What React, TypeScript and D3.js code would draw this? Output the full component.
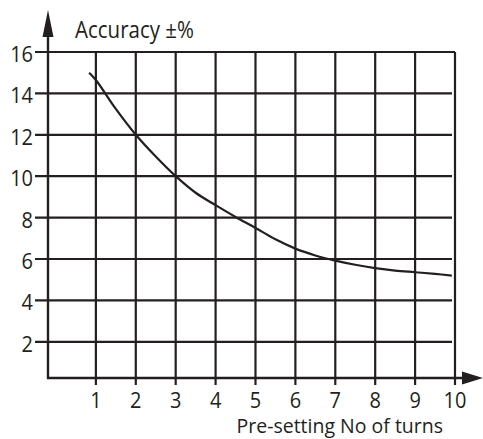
import React from "react";
import * as d3 from "d3";

const turns = [0.83, 1, 1.5, 2, 2.5, 3, 3.5, 4, 4.5, 5, 5.5, 6, 6.5, 7, 7.5, 8, 8.5, 9, 9.5, 9.92];
const accuracy = [15.0, 14.65, 13.25, 12.0, 10.95, 10.0, 9.2, 8.6, 8.03, 7.5, 6.95, 6.5, 6.17, 5.92, 5.72, 5.56, 5.44, 5.36, 5.28, 5.2];
const xTicks = [1, 2, 3, 4, 5, 6, 7, 8, 9, 10];
const yTicks = [2, 4, 6, 8, 10, 12, 14, 16];
const yTitle = "Accuracy ±%";
const xTitle = "Pre-setting No of turns";

const W = 483, H = 439;
const INK = "#231f20";
const FONT = "'Open Sans', 'Noto Sans', sans-serif";

function T(props: { x: number; y: number; anchor?: string; size: number; sy?: number; children: React.ReactNode }) {
  return (
    <text
      transform={`translate(${props.x},${props.y}) scale(1,${props.sy ?? 1.12})`}
      textAnchor={props.anchor || "start"}
      fontFamily={FONT}
      fontSize={props.size}
      fill={INK}
    >
      {props.children}
    </text>
  );
}

export default function App() {
  const x = d3.scaleLinear().domain([-0.2, 10]).range([48, 455]);
  const y = d3.scaleLinear().domain([0.25, 16]).range([378, 52]);
  const line = d3.line<number>()
    .x((_, i) => x(turns[i]))
    .y((d) => y(d))
    .curve(d3.curveCatmullRom.alpha(0.5));
  const x0 = x.range()[0], x1 = x.range()[1];
  const yb = y.range()[0], yt = y.range()[1];
  return (
    <svg width={W} height={H} style={{ position: "absolute", left: 0, top: 0 }}>
      <rect width={W} height={H} fill="#fff" />
      {yTicks.map((t) => (
        <line key={"h" + t} x1={x0 - 13} x2={t === 16 ? x1 : x1 - 3} y1={y(t)} y2={y(t)} stroke={INK} strokeWidth={2.2} />
      ))}
      {xTicks.map((t) => (
        <line key={"v" + t} x1={x(t)} x2={x(t)} y1={yt} y2={yb + 7} stroke={INK} strokeWidth={2.2} />
      ))}
      <line x1={x0} x2={x0} y1={36} y2={yb + 1} stroke={INK} strokeWidth={2.4} />
      <line x1={x0 - 1} x2={462} y1={yb} y2={yb} stroke={INK} strokeWidth={2.4} />
      <path d={`M${x0 - 5.5},37 L${x0},10 L${x0 + 5.5},37 Z`} fill={INK} />
      <path d={`M462,${yb - 6.5} L483,${yb} L462,${yb + 6.5} Z`} fill={INK} />
      <path d={line(accuracy) || ""} fill="none" stroke={INK} strokeWidth={2.2} />
      {yTicks.map((t) => (
        <T key={"yl" + t} x={33} y={y(t) + 10} anchor="end" size={20}>{t}</T>
      ))}
      {xTicks.map((t) => (
        <T key={"xl" + t} x={x(t)} y={408} anchor="middle" size={20}>{t}</T>
      ))}
      <T x={75} y={38} size={20.5}>{yTitle}</T>
      <T x={443} y={433} anchor="end" size={19.5} sy={1.05}>{xTitle}</T>
    </svg>
  );
}
